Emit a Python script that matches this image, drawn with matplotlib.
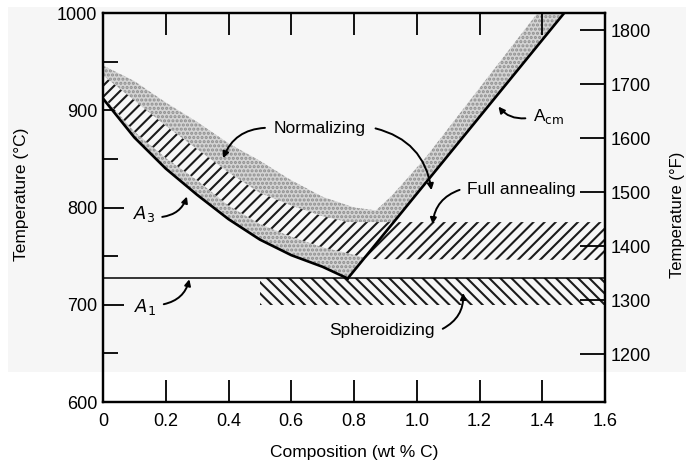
import numpy as np
import matplotlib
matplotlib.use("Agg")
import matplotlib.pyplot as plt
from matplotlib.patches import Rectangle

# Data (composition in wt% C, temperature in deg C)
a3_comp = [0.0, 0.1, 0.2, 0.3, 0.4, 0.5, 0.6, 0.7, 0.78]
a3_temp = [912, 872, 840, 813, 788, 767, 751, 739, 727]

acm_comp = [0.78, 1.47]
acm_temp = [727, 1000]

a1_comp = [0.0, 1.6]
a1_temp = [727, 727]

norm_top_comp = [0.0, 0.1, 0.2, 0.3, 0.4, 0.5, 0.6, 0.7, 0.8, 0.87, 0.92, 0.97, 1.03, 1.385]
norm_top_temp = [946, 930, 908, 888, 866, 848, 828, 811, 800, 797, 812, 830, 852, 1000]

anneal_top_comp = [0.0, 0.1, 0.2, 0.3, 0.4, 0.5, 0.6, 0.7, 0.78, 1.6]
anneal_top_temp = [936, 910, 884, 860, 836, 815, 802, 791, 785, 785]
anneal_bot_comp = [0.0, 0.1, 0.2, 0.3, 0.4, 0.5, 0.6, 0.7, 0.78, 0.85, 1.6]
anneal_bot_temp = [914, 878, 851, 828, 802, 783, 770, 759, 753, 747, 746]

spher_comp = [0.5, 1.6]
spher_low = 700
spher_high = 727

x_ticks = [0, 0.2, 0.4, 0.6, 0.8, 1.0, 1.2, 1.4, 1.6]
x_labels = ["0", "0.2", "0.4", "0.6", "0.8", "1.0", "1.2", "1.4", "1.6"]
c_ticks = [600, 700, 800, 900, 1000]
f_ticks = [1200, 1300, 1400, 1500, 1600, 1700, 1800]

BG = "#f6f6f6"


def c_to_f(t):
    return t * 9 / 5 + 32


def main():
    plt.rcParams["font.family"] = ["Liberation Sans", "DejaVu Sans"]
    plt.rcParams["hatch.linewidth"] = 1.5

    fig = plt.figure(figsize=(6.86, 4.65), dpi=100)
    fig.patch.set_facecolor("white")
    # scanned page tint
    fig.patches.append(Rectangle((8 / 686, 1 - 372 / 465), 1, 365 / 465,
                                 transform=fig.transFigure, facecolor=BG,
                                 edgecolor="none", zorder=-10))

    ax = fig.add_axes([103 / 686, 1 - 402 / 465, 502 / 686, 389 / 465])
    ax.patch.set_alpha(0)

    # 1. Normalizing region (stippled) between A3/Acm and the upper curve
    poly_c = norm_top_comp + [acm_comp[1], acm_comp[0]] + a3_comp[::-1]
    poly_t = norm_top_temp + [acm_temp[1], acm_temp[0]] + a3_temp[::-1]
    ax.fill(poly_c, poly_t, facecolor="#d4d4d4", edgecolor="#8e8e8e",
            hatch="....", linewidth=0, zorder=1)

    # 2. Full annealing band (hatched)
    fa_c = anneal_top_comp + anneal_bot_comp[::-1]
    fa_t = anneal_top_temp + anneal_bot_temp[::-1]
    ax.fill(fa_c, fa_t, facecolor=BG, edgecolor="#1a1a1a", hatch="///",
            linewidth=0, zorder=2)

    # 3. Spheroidizing band
    ax.fill_between(spher_comp, spher_low, spher_high, facecolor="none",
                    edgecolor="#1a1a1a", hatch="\\\\\\", linewidth=0, zorder=2)

    # 4. Phase boundaries
    ax.plot(a3_comp, a3_temp, color="black", lw=1.9, zorder=4)
    ax.plot(acm_comp, acm_temp, color="black", lw=1.9, zorder=4)
    ax.plot(a1_comp, a1_temp, color="black", lw=1.1, zorder=4)

    ax.set_xlim(0, 1.6)
    ax.set_ylim(600, 1000)
    ax.set_xticks(x_ticks)
    ax.set_xticklabels(x_labels)
    ax.set_yticks(c_ticks)
    ax.set_yticks([650, 750, 850, 950], minor=True)
    ax.tick_params(axis="x", direction="in", length=16, width=1.3,
                   top=True, labelsize=13, pad=8)
    ax.tick_params(axis="y", which="major", direction="in", length=15,
                   width=1.3, labelsize=13, pad=4)
    ax.tick_params(axis="y", which="minor", direction="in", length=11,
                   width=1.3)
    for sp in ax.spines.values():
        sp.set_linewidth(1.6)

    ax.set_xlabel("Composition (wt % C)", fontsize=12.5, labelpad=11)
    ax.set_ylabel("Temperature (\u00b0C)", fontsize=12.5)
    ax.yaxis.set_label_coords(-0.148, 0.535)

    # 5. Fahrenheit scale on the right
    ax2 = ax.twinx()
    ax2.set_ylim(c_to_f(600), c_to_f(1000))
    ax2.set_yticks(f_ticks)
    ax2.tick_params(axis="y", direction="in", length=18, width=1.3,
                    labelsize=13, pad=4)
    for sp in ax2.spines.values():
        sp.set_linewidth(1.6)
    fig.text(685 / 686, 1 - 215 / 465, "Temperature (\u00b0F)", rotation=90,
             ha="right", va="center", fontsize=12)

    # 6. Labels with curved arrows
    arw = dict(arrowstyle="-|>", color="black", lw=1.4, mutation_scale=9)
    ax.text(0.69, 881, "Normalizing", fontsize=12.5, ha="center", va="center")
    ax.annotate("", xy=(0.38, 848), xytext=(0.525, 882),
                arrowprops=dict(arw, connectionstyle="arc3,rad=0.35"))
    ax.annotate("", xy=(1.048, 815), xytext=(0.86, 882),
                arrowprops=dict(arw, connectionstyle="arc3,rad=-0.35"))

    ax.text(1.37, 894, "A$_{\\rm cm}$", fontsize=12.5, ha="left", va="center")
    ax.annotate("", xy=(1.255, 906), xytext=(1.355, 892),
                arrowprops=dict(arw, connectionstyle="arc3,rad=-0.3"))

    ax.text(1.16, 818, "Full annealing", fontsize=12.5, ha="left", va="center")
    ax.annotate("", xy=(1.05, 780), xytext=(1.145, 819),
                arrowprops=dict(arw, connectionstyle="arc3,rad=0.35"))

    ax.text(0.095, 793, "$A_3$", fontsize=13, ha="left", va="center")
    ax.annotate("", xy=(0.27, 814), xytext=(0.18, 790),
                arrowprops=dict(arw, connectionstyle="arc3,rad=0.35"))

    ax.text(0.1, 698, "$A_1$", fontsize=13, ha="left", va="center")
    ax.annotate("", xy=(0.277, 729), xytext=(0.185, 700),
                arrowprops=dict(arw, connectionstyle="arc3,rad=0.35"))

    ax.text(0.722, 674, "Spheroidizing", fontsize=12.5, ha="left", va="center")
    ax.annotate("", xy=(1.147, 715), xytext=(1.075, 674),
                arrowprops=dict(arw, connectionstyle="arc3,rad=0.35"))

    fig.savefig("out.png", dpi=100)


if __name__ == "__main__":
    main()
